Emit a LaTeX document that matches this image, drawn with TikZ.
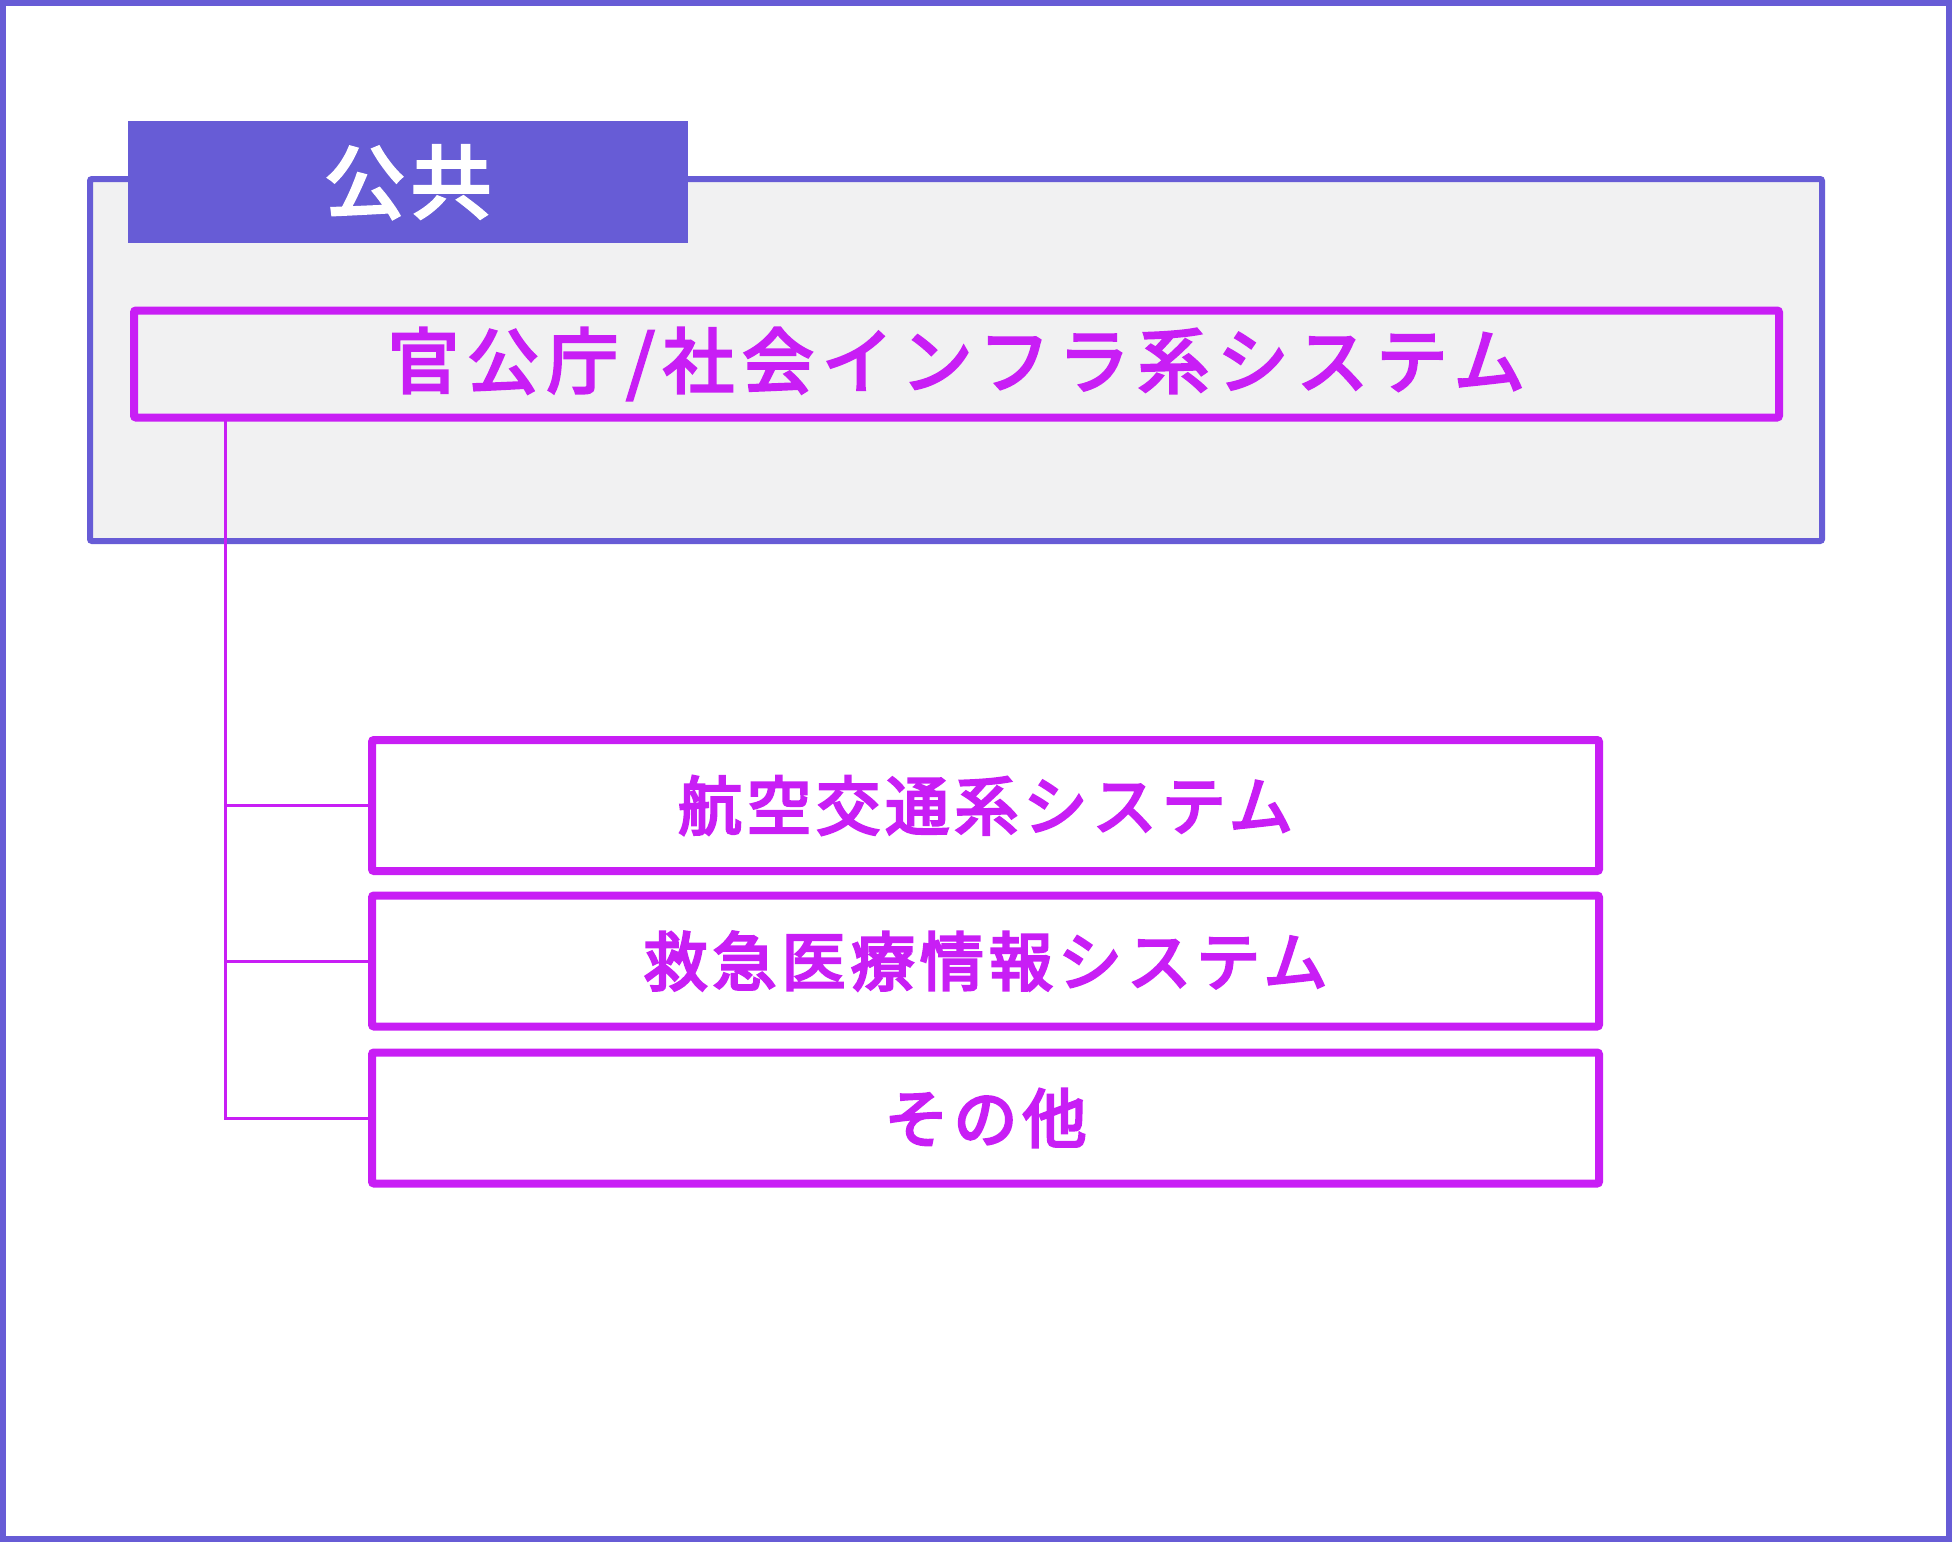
\documentclass[tikz,border=0pt]{standalone}
\usepackage{fontspec}
\usepackage{xcolor}
\newfontfamily\jpfont{Noto Sans CJK JP}[FakeBold=4, LetterSpace=8]
\newfontfamily\jpwide{Noto Sans CJK JP}[FakeBold=4, LetterSpace=12]
\definecolor{frameblue}{HTML}{675CD6}
\definecolor{sysmag}{HTML}{C81EF5}
\definecolor{panelgray}{HTML}{F1F1F2}
\tikzset{
  sysbox/.style={draw=sysmag, line width=8pt, rounded corners=2pt, text=sysmag,
    inner sep=0pt, font=\jpfont\fontsize{64}{74}\selectfont},
  link/.style={draw=sysmag, line width=3pt},
}

\begin{document}
\begin{tikzpicture}[x=1pt,y=-1pt]
	\useasboundingbox (0,0) rectangle (1952,1542);
	\draw[frameblue, line width=6pt] (3,3) rectangle (1949,1539);
	% panel
	\draw[frameblue, fill=panelgray, line width=6pt, rounded corners=2pt] (90,179) rectangle (1822,541);
	\node[fill=frameblue, minimum width=560pt, minimum height=122pt, inner sep=0pt,
		text=white, font=\jpfont\fontsize{80}{90}\selectfont] (pub) at (408,182) {公共};
	\node[sysbox, minimum width=1645pt, minimum height=107pt,
		font=\jpwide\fontsize{71}{81}\selectfont] (gov) at (956.5,364) {官公庁/社会インフラ系システム};
	% children
	\node[sysbox, minimum width=1227pt, minimum height=131pt] (air) at (985.5,805.5) {航空交通系システム};
	\node[sysbox, minimum width=1227pt, minimum height=131pt] (emg) at (985.5,961) {救急医療情報システム};
	\node[sysbox, minimum width=1227pt, minimum height=131pt] (etc) at (985.5,1118) {その他};
	\coordinate (root) at (225,420);
	\draw[link] (root) |- (air.west);
	\draw[link] (root) |- (emg.west);
	\draw[link] (root) |- (etc.west);
\end{tikzpicture}
\end{document}
